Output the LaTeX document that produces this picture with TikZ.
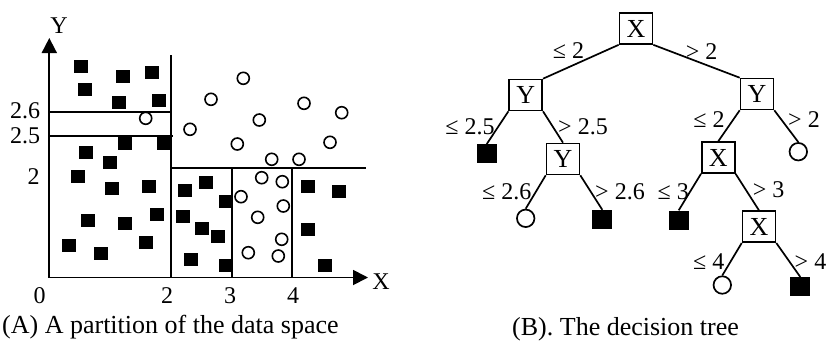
\documentclass[tikz,border=0pt]{standalone}
\usepackage{fontspec}
\setmainfont{Liberation Serif}
\usetikzlibrary{arrows.meta}
\begin{document}
\begin{tikzpicture}[x=1pt,y=-1pt,
 lbl/.style={inner sep=0pt, font=\fontsize{24}{28}\selectfont},
 captxt/.style={inner sep=0pt, font=\fontsize{26}{30}\selectfont, anchor=base west},
 ax/.style={line width=1.8pt},
 sq/.style={fill=black, minimum width=14pt, minimum height=13pt, inner sep=0pt},
 pdot/.style={circle, draw, line width=1.6pt, minimum size=12pt, inner sep=0pt},
 tbox/.style={draw, line width=1.6pt, minimum width=33pt, minimum height=31pt, inner sep=0pt, font=\fontsize{26}{30}\selectfont},
 leafsq/.style={fill=black, minimum width=20pt, minimum height=19pt, inner sep=0pt},
 leafc/.style={circle, draw, line width=1.7pt, minimum size=17.5pt, inner sep=0pt},
 tedge/.style={line width=1.7pt},
]
\useasboundingbox (0,0) rectangle (826,341);

% ---------- panel A ----------
\coordinate (O) at (49.3,277.5);
\coordinate (Ytip) at (49.3,38);
\coordinate (Xtip) at (368,277.5);
\draw[ax,{Triangle[length=15pt,width=15pt]}-{Triangle[length=15pt,width=15pt]}] (Ytip) -- (O) -- (Xtip);

\coordinate (v2t) at (171,55);   \coordinate (v2b) at (171,277.5);
\coordinate (h26a) at (49,111.7); \coordinate (h26b) at (171,111.7);
\coordinate (h25a) at (49,135.7); \coordinate (h25b) at (173,135.7);
\coordinate (h2a) at (171,167.7); \coordinate (h2b) at (366,167.7);
\coordinate (v3t) at (232.3,167.7); \coordinate (v3b) at (232.3,277.5);
\coordinate (v4t) at (292.3,167.7); \coordinate (v4b) at (292.3,277.5);
\draw[ax] (v2t) -- (v2b);
\draw[ax] (h26a) -- (h26b);
\draw[ax] (h25a) -- (h25b);
\draw[ax] (h2a) -- (h2b);
\draw[ax] (v3t) -- (v3b);
\draw[ax] (v4t) -- (v4b);

\node[lbl] (ylab) at (59,25.5) {Y};
\node[lbl] (xlab) at (381,281.7) {X};
\node[lbl] (t0) at (39.5,296) {0};
\node[lbl] (t2) at (167,296) {2};
\node[lbl] (t3) at (230,296) {3};
\node[lbl] (t4) at (293,296) {4};
\node[lbl] (t26) at (25,110.5) {2.6};
\node[lbl] (t25) at (25,136) {2.5};
\node[lbl] (ty2) at (33.7,176.7) {2};

\foreach \x/\y [count=\i] in {80.7/66.7,123.3/76,151.7/72.3,85/89,119.3/102,159/100.7,
  125/143.3,164/143.3,86/152.7,110/162.3,78.3/176.7,112.3/188.3,149.3/186,
  87.7/220,125/223.3,156.7/214.3,69/245.7,100.7/253.3,145.7/242.3,
  185/190,205.7/182.7,226/201.7,183.3/216,201.7/228.3,218.3/236.7,190.7/259.3,226/265,
  308.3/186,339.3/191.7,308.3/229.3,325/265}
  \node[sq] (s\i) at (\x,\y) {};

\foreach \x/\y [count=\i] in {145.7/118.3,243.3/78.3,211/99.3,190/129.3,259.3/120,237.3/144,
  304/103.3,341.7/112.7,330/142.3,271.7/159.3,299/159.3,261.7/177.7,282.3/181.7,
  241/196.7,283.3/206,257.7/217.3,281.7/239.3,248.3/252.7,278.3/256}
  \node[pdot] (c\i) at (\x,\y) {};

\node[captxt] (capA) at (2,333) {(A) A partition of the data space};

% ---------- panel B ----------
\node[tbox] (root) at (636,28.5) {X};
\node[tbox] (yl) at (525.7,95) {Y};
\node[tbox] (yr) at (757,94) {Y};
\node[tbox] (yl2) at (563,159) {Y};
\node[tbox] (xr) at (718.3,157.5) {X};
\node[tbox] (xr2) at (759,226.7) {X};

\node[leafsq] (l1) at (486.7,153.8) {};
\node[leafc]  (l2) at (525.7,218.3) {};
\node[leafsq] (l3) at (602.3,219.5) {};
\node[leafc]  (l4) at (798.3,151.7) {};
\node[leafsq] (l5) at (678.7,220) {};
\node[leafc]  (l6) at (722.3,285) {};
\node[leafsq] (l7) at (800.3,286.7) {};

\draw[tedge] (root.south west) -- (yl.north east);
\draw[tedge] (root.south east) -- (yr.north west);
\draw[tedge] (yl.south west) -- (l1.north);
\draw[tedge] (yl.south east) -- (yl2.north);
\draw[tedge] (yr.south west) -- (xr.north);
\draw[tedge] (yr.south east) -- (l4.north);
\draw[tedge] (yl2.south west) -- (l2.north);
\draw[tedge] (yl2.south east) -- (l3.north);
\draw[tedge] (xr.south west) -- (l5.north);
\draw[tedge] (xr.south east) -- (xr2.north);
\draw[tedge] (xr2.south west) -- (l6.north);
\draw[tedge] (xr2.south east) -- (l7.north);

\node[lbl] (e1) at (568.5,51) {≤ 2};
\node[lbl] (e2) at (701.7,52) {> 2};
\node[lbl] (e3) at (470,126.7) {≤ 2.5};
\node[lbl] (e4) at (583,126.7) {> 2.5};
\node[lbl] (e5) at (709,120) {≤ 2};
\node[lbl] (e6) at (804,120) {> 2};
\node[lbl] (e7) at (506.7,191.7) {≤ 2.6};
\node[lbl] (e8) at (620,191.7) {> 2.6};
\node[lbl] (e9) at (673.3,191.7) {≤ 3};
\node[lbl] (e10) at (768.7,190) {> 3};
\node[lbl] (e11) at (708.7,261.7) {≤ 4};
\node[lbl] (e12) at (810.5,261.7) {> 4};

\node[captxt] (capB) at (512,335) {(B). The decision tree};
\end{tikzpicture}
\end{document}
